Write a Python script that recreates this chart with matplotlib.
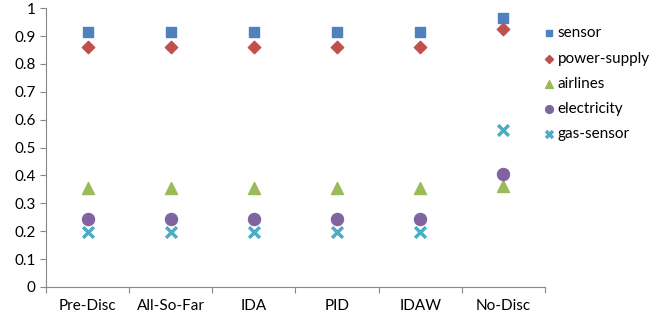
import numpy as np
from matplotlib import pyplot as plt

categories = ['Pre-Disc', 'All-So-Far', 'IDA', 'PID', 'IDAW', 'No-Disc']
sensor = [0.915, 0.915, 0.915, 0.915, 0.915, 0.963]
power_supply = [0.862, 0.862, 0.862, 0.862, 0.862, 0.925]
airlines = [0.356, 0.356, 0.356, 0.356, 0.356, 0.362]
electricity = [0.244, 0.244, 0.244, 0.244, 0.244, 0.405]
gas_sensor = [0.198, 0.198, 0.198, 0.198, 0.198, 0.564]

plt.rcParams['font.family'] = ['Lato', 'DejaVu Sans']

fig = plt.figure(figsize=(6.54, 3.25), dpi=100)
ax = fig.add_axes([0.0703, 0.117, 0.763, 0.858])

x = np.arange(len(categories)) + 0.5
ax.scatter(x, sensor, marker='s', s=60, c='#4F81BD', label='sensor')
ax.scatter(x, power_supply, marker='D', s=40, c='#C0504D', label='power-supply')
ax.scatter(x, airlines, marker='^', s=75, c='#9BBB59', label='airlines')
ax.scatter(x, electricity, marker='o', s=75, c='#8064A2', label='electricity')
ax.scatter(x, gas_sensor, marker='x', s=60, c='#4BACC6', linewidths=2.5,
           label='gas-sensor')

ax.set_xlim(0, len(categories))
ax.set_ylim(0, 1)
ax.set_yticks(np.arange(0, 1.01, 0.1))
ax.set_yticklabels(['0', '0.1', '0.2', '0.3', '0.4', '0.5', '0.6', '0.7',
                    '0.8', '0.9', '1'])
ax.set_xticks(np.arange(len(categories) + 1))
ax.set_xticklabels([])
ax.set_xticks(x, minor=True)
ax.set_xticklabels(categories, minor=True)
ax.tick_params(axis='x', which='minor', length=0, pad=9)
ax.tick_params(axis='both', which='major', length=4, color='#888888',
               labelsize=11)
ax.tick_params(axis='x', which='minor', labelsize=11)
for side in ['top', 'right']:
    ax.spines[side].set_visible(False)
for side in ['left', 'bottom']:
    ax.spines[side].set_color('#888888')

ax.legend(loc='upper left', bbox_to_anchor=(0.992, 0.935), frameon=False,
          fontsize=11, handlelength=1.0, handletextpad=0.1, labelspacing=0.74,
          markerscale=0.65, borderaxespad=0, borderpad=0)

plt.savefig('out.png', dpi=100)
